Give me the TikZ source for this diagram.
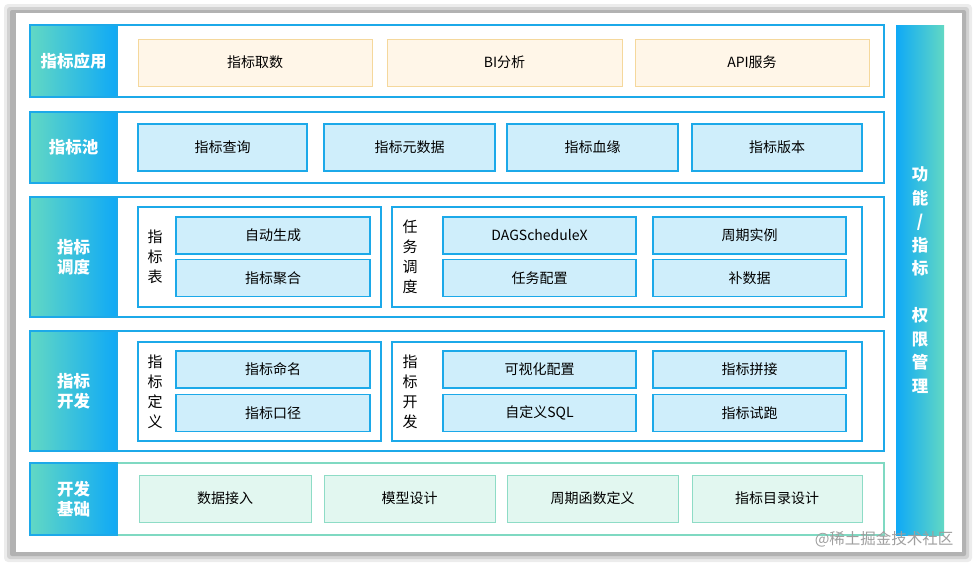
\documentclass[tikz,border=0pt]{standalone}
\usepackage{fontspec}
\setmainfont{Noto Sans CJK SC}
\usepackage{tikz}
\usetikzlibrary{positioning}

\definecolor{rowblue}{HTML}{1CA9E9}
\definecolor{rowgreen}{HTML}{7FD9C2}
\definecolor{lblteal}{HTML}{62D8C4}
\definecolor{lblblue}{HTML}{0FA9F6}
\definecolor{appfill}{HTML}{FFF6E8}
\definecolor{appedge}{HTML}{F5D89C}
\definecolor{poolfill}{HTML}{CFEEFB}
\definecolor{basefill}{HTML}{E2F7F0}
\definecolor{baseedge}{HTML}{8EDCC6}

\begin{document}
\begin{tikzpicture}[
        x=1pt, y=-1pt,
        rowbox/.style={
            draw=rowblue,
            line width=1.2pt,
            minimum width=854,
            minimum height=#1,
            inner sep=0, outer sep=0
        },
        lbl/.style={
            draw=rowblue,
            line width=1.2pt,
            left color=lblteal,
            right color=lblblue,
            text=white,
            font=\fontsize{16.5}{20}\selectfont\bfseries,
            align=center,
            minimum width=87,
            minimum height=#1,
            inner sep=0, outer sep=0
        },
        cell/.style={
            line width=1pt,
            font=\fontsize{14}{16}\selectfont,
            minimum height=47,
            inner sep=0, outer sep=0
        },
        appbox/.style={cell, draw=appedge, fill=appfill},
        poolbox/.style={cell, draw=rowblue, fill=poolfill, line width=1.2pt},
        basebox/.style={cell, draw=baseedge, fill=basefill},
        smallbox/.style={poolbox, minimum height=37},
        groupbox/.style={
            draw=rowblue,
            line width=1.2pt,
            minimum height=100,
            inner sep=0, outer sep=0
        },
        vtext/.style={
            font=\fontsize{15}{20}\selectfont,
            align=center,
            inner sep=0
        }
    ]
    \useasboundingbox (0,0) rectangle (976,566);

    % Frame with shadow
    \fill[gray!15, rounded corners=4] (4,4) rectangle (972,562);
    \fill[gray!35, rounded corners=3] (7,7) rectangle (969,559);
    \fill[gray!60, rounded corners=2] (10,10) rectangle (966,556);
    \fill[white] (16,13) rectangle (962,552);

    % Rows
    \node[rowbox=72] (appRow) at (457,61) {};
    \node[rowbox=71] (poolRow) at (457,147.5) {};
    \node[rowbox=120] (schedRow) at (457,257) {};
    \node[rowbox=120] (devRow) at (457,391) {};
    \node[rowbox=72, draw=rowgreen] (baseRow) at (457,499) {};

    % Labels
    \node[lbl=72, anchor=west] (appLbl) at (appRow.west) {指标应用};
    \node[lbl=71, anchor=west] (poolLbl) at (poolRow.west) {指标池};
    \node[lbl=120, anchor=west] (schedLbl) at (schedRow.west) {指标\\调度};
    \node[lbl=120, anchor=west] (devLbl) at (devRow.west) {指标\\开发};
    \node[lbl=72, anchor=west] (baseLbl) at (baseRow.west) {开发\\基础};

    % Application
    \node[appbox, minimum width=234] (fetch) at (255,62.5) {指标取数};
    \node[appbox, minimum width=235] (bi) at (504.5,62.5) {BI分析};
    \node[appbox, minimum width=234] (api) at (752,62.5) {API服务};

    % Pool
    \node[poolbox, minimum width=169] (query) at (222.5,147.5) {指标查询};
    \node[poolbox, minimum width=171] (meta) at (409.5,147.5) {指标元数据};
    \node[poolbox, minimum width=171] (lineage) at (592.5,147.5) {指标血缘};
    \node[poolbox, minimum width=170] (version) at (777,147.5) {指标版本};

    % Scheduling
    \node[groupbox, minimum width=243] (tblGrp) at (259.5,257) {};
    \node[vtext] (tblTxt) at (155,257) {指\\标\\表};
    \node[smallbox, minimum width=194] (autoGen) at (273,235.5) {自动生成};
    \node[smallbox, minimum width=194] (aggr) at (273,278) {指标聚合};
    \node[groupbox, minimum width=470] (taskGrp) at (627,257) {};
    \node[vtext] (taskTxt) at (410,257) {任\\务\\调\\度};
    \node[smallbox, minimum width=193] (dag) at (539.5,235.5) {DAGScheduleX};
    \node[smallbox, minimum width=193] (inst) at (749.5,235.5) {周期实例};
    \node[smallbox, minimum width=193] (taskCfg) at (539.5,278) {任务配置};
    \node[smallbox, minimum width=193] (backfill) at (749.5,278) {补数据};

    % Development
    \node[groupbox, minimum width=243, minimum height=99] (defGrp) at (259.5,391.5) {};
    \node[vtext] (defTxt) at (155,391.5) {指\\标\\定\\义};
    \node[smallbox, minimum width=194] (naming) at (273,369.5) {指标命名};
    \node[smallbox, minimum width=194] (caliber) at (273,413) {指标口径};
    \node[groupbox, minimum width=470, minimum height=99] (devGrp) at (627,391.5) {};
    \node[vtext] (devTxt) at (410,391.5) {指\\标\\开\\发};
    \node[smallbox, minimum width=193] (visual) at (539.5,369.5) {可视化配置};
    \node[smallbox, minimum width=193] (joint) at (749.5,369.5) {指标拼接};
    \node[smallbox, minimum width=193] (sql) at (539.5,413) {自定义SQL};
    \node[smallbox, minimum width=193] (trial) at (749.5,413) {指标试跑};

    % Foundation
    \node[basebox, minimum width=172] (ingest) at (225,498.5) {数据接入};
    \node[basebox, minimum width=171] (model) at (409.5,498.5) {模型设计};
    \node[basebox, minimum width=171] (period) at (592.5,498.5) {周期函数定义};
    \node[basebox, minimum width=170] (catalog) at (777,498.5) {指标目录设计};

    % Permission bar
    \node[left color=lblblue, right color=lblteal, minimum width=48, minimum height=510,
          inner sep=0, text=white, align=center,
          font=\fontsize{16.5}{23.5}\selectfont\bfseries] (authBar) at (920,280)
        {功\\能\\/\\指\\标\\[23.5pt]权\\限\\管\\理};

    \node[anchor=east, text=gray!75, font=\fontsize{15.5}{16}\selectfont] (mark) at (957,539) {@稀土掘金技术社区};

\end{tikzpicture}
\end{document}
